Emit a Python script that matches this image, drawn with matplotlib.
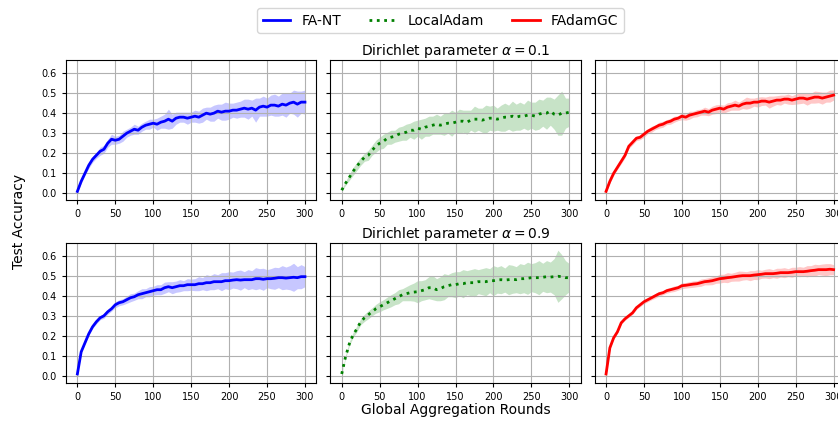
import matplotlib
matplotlib.use("Agg")
import matplotlib.pyplot as plt
import numpy as np

# rounds sampled every 5 rounds
rounds = list(range(0, 301, 5))

# ---- Dirichlet alpha = 0.1 ----
fant_a01 = [0.01, 0.06, 0.10, 0.14, 0.17, 0.19, 0.21, 0.22, 0.25, 0.27, 0.265,
            0.27, 0.285, 0.30, 0.31, 0.32, 0.315, 0.33, 0.34, 0.345, 0.35,
            0.345, 0.355, 0.36, 0.37, 0.36, 0.375, 0.38, 0.38, 0.375, 0.38,
            0.385, 0.38, 0.39, 0.40, 0.395, 0.40, 0.41, 0.405, 0.41, 0.41,
            0.415, 0.415, 0.42, 0.425, 0.42, 0.425, 0.415, 0.43, 0.435, 0.43,
            0.44, 0.44, 0.435, 0.445, 0.44, 0.45, 0.455, 0.445, 0.455, 0.455]
fant_a01_sd = [0.005, 0.01, 0.01, 0.015, 0.015, 0.015, 0.02, 0.02, 0.02, 0.025, 0.02,
               0.02, 0.025, 0.02, 0.02, 0.025, 0.02, 0.02, 0.02, 0.025, 0.02,
               0.03, 0.03, 0.035, 0.05, 0.035, 0.03, 0.025, 0.025, 0.03, 0.025,
               0.03, 0.03, 0.035, 0.03, 0.035, 0.04, 0.035, 0.04, 0.045, 0.04,
               0.035, 0.04, 0.04, 0.045, 0.05, 0.04, 0.06, 0.045, 0.05, 0.045,
               0.05, 0.055, 0.05, 0.055, 0.06, 0.05, 0.06, 0.065, 0.055, 0.06]

ladam_a01 = [0.016, 0.05, 0.08, 0.11, 0.135, 0.16, 0.18, 0.19, 0.215, 0.235, 0.25,
             0.26, 0.275, 0.28, 0.285, 0.295, 0.30, 0.305, 0.315, 0.315, 0.325,
             0.32, 0.33, 0.335, 0.34, 0.345, 0.34, 0.345, 0.35, 0.35, 0.355,
             0.36, 0.36, 0.355, 0.365, 0.37, 0.37, 0.365, 0.37, 0.375, 0.375,
             0.37, 0.375, 0.38, 0.38, 0.385, 0.38, 0.385, 0.385, 0.39, 0.39,
             0.385, 0.395, 0.40, 0.40, 0.41, 0.395, 0.39, 0.40, 0.40, 0.405]
ladam_a01_sd = [0.005, 0.01, 0.015, 0.02, 0.02, 0.02, 0.02, 0.025, 0.025, 0.03, 0.03,
                0.035, 0.03, 0.035, 0.03, 0.035, 0.035, 0.04, 0.035, 0.045, 0.04,
                0.05, 0.045, 0.05, 0.045, 0.05, 0.045, 0.055, 0.05, 0.065, 0.05,
                0.06, 0.055, 0.06, 0.05, 0.065, 0.055, 0.06, 0.07, 0.06, 0.065,
                0.055, 0.065, 0.07, 0.06, 0.075, 0.065, 0.07, 0.06, 0.075, 0.065,
                0.07, 0.075, 0.065, 0.08, 0.07, 0.075, 0.10, 0.11, 0.075, 0.07]

gc_a01 = [0.01, 0.06, 0.10, 0.13, 0.16, 0.19, 0.235, 0.255, 0.275, 0.28, 0.295,
          0.31, 0.32, 0.33, 0.34, 0.345, 0.355, 0.36, 0.37, 0.375, 0.385,
          0.38, 0.39, 0.395, 0.40, 0.405, 0.41, 0.405, 0.415, 0.42, 0.425,
          0.42, 0.43, 0.435, 0.44, 0.435, 0.445, 0.45, 0.45, 0.455, 0.455,
          0.46, 0.46, 0.455, 0.46, 0.465, 0.465, 0.47, 0.47, 0.465, 0.47,
          0.475, 0.475, 0.47, 0.475, 0.48, 0.48, 0.475, 0.48, 0.485, 0.49]
gc_a01_sd = [0.005, 0.008, 0.01, 0.01, 0.012, 0.012, 0.012, 0.012, 0.012, 0.012, 0.015,
             0.012, 0.015, 0.012, 0.015, 0.015, 0.012, 0.015, 0.015, 0.012, 0.018,
             0.015, 0.02, 0.015, 0.018, 0.015, 0.02, 0.018, 0.02, 0.022, 0.018,
             0.02, 0.022, 0.02, 0.025, 0.02, 0.022, 0.03, 0.025, 0.02, 0.025,
             0.022, 0.02, 0.03, 0.025, 0.022, 0.025, 0.02, 0.025, 0.022, 0.025,
             0.028, 0.025, 0.03, 0.025, 0.03, 0.028, 0.03, 0.025, 0.03, 0.025]

# ---- Dirichlet alpha = 0.9 ----
fant_a09 = [0.01, 0.12, 0.165, 0.21, 0.245, 0.27, 0.29, 0.30, 0.32, 0.335, 0.355,
            0.365, 0.37, 0.38, 0.39, 0.395, 0.405, 0.41, 0.415, 0.42, 0.425,
            0.43, 0.43, 0.44, 0.445, 0.44, 0.445, 0.45, 0.45, 0.455, 0.455,
            0.455, 0.46, 0.46, 0.465, 0.465, 0.47, 0.47, 0.47, 0.475, 0.475,
            0.478, 0.48, 0.478, 0.48, 0.48, 0.48, 0.485, 0.485, 0.482, 0.485,
            0.485, 0.487, 0.49, 0.49, 0.488, 0.49, 0.492, 0.49, 0.495, 0.495]
fant_a09_sd = [0.003, 0.005, 0.005, 0.008, 0.008, 0.01, 0.01, 0.012, 0.012, 0.012, 0.015,
               0.015, 0.015, 0.018, 0.02, 0.018, 0.02, 0.025, 0.02, 0.025, 0.022,
               0.025, 0.025, 0.028, 0.025, 0.03, 0.028, 0.03, 0.025, 0.03, 0.028,
               0.03, 0.035, 0.03, 0.04, 0.035, 0.04, 0.035, 0.045, 0.04, 0.045,
               0.04, 0.045, 0.05, 0.04, 0.05, 0.045, 0.055, 0.05, 0.055, 0.045,
               0.05, 0.055, 0.05, 0.06, 0.055, 0.06, 0.07, 0.055, 0.06, 0.05]

ladam_a09 = [0.01, 0.095, 0.16, 0.205, 0.235, 0.27, 0.29, 0.305, 0.32, 0.335, 0.345,
             0.355, 0.365, 0.375, 0.385, 0.395, 0.405, 0.41, 0.415, 0.418, 0.42,
             0.425, 0.43, 0.44, 0.44, 0.43, 0.435, 0.445, 0.45, 0.455, 0.455,
             0.46, 0.46, 0.465, 0.465, 0.465, 0.47, 0.47, 0.47, 0.475, 0.475,
             0.478, 0.48, 0.478, 0.48, 0.482, 0.48, 0.485, 0.485, 0.487, 0.49,
             0.49, 0.49, 0.492, 0.495, 0.493, 0.495, 0.497, 0.495, 0.49, 0.49]
ladam_a09_sd = [0.003, 0.008, 0.01, 0.012, 0.015, 0.015, 0.018, 0.02, 0.02, 0.022, 0.025,
                0.025, 0.028, 0.03, 0.03, 0.035, 0.03, 0.035, 0.04, 0.045, 0.055,
                0.05, 0.05, 0.055, 0.06, 0.055, 0.06, 0.065, 0.055, 0.06, 0.065,
                0.06, 0.07, 0.06, 0.065, 0.07, 0.06, 0.065, 0.07, 0.06, 0.075,
                0.065, 0.07, 0.06, 0.075, 0.07, 0.065, 0.075, 0.07, 0.08, 0.07,
                0.075, 0.085, 0.07, 0.08, 0.075, 0.09, 0.13, 0.11, 0.085, 0.07]

gc_a09 = [0.01, 0.14, 0.19, 0.22, 0.265, 0.285, 0.30, 0.315, 0.34, 0.355, 0.37,
          0.38, 0.39, 0.40, 0.41, 0.415, 0.425, 0.43, 0.435, 0.44, 0.45,
          0.452, 0.455, 0.458, 0.46, 0.465, 0.47, 0.472, 0.475, 0.48, 0.485,
          0.487, 0.49, 0.492, 0.495, 0.498, 0.50, 0.50, 0.50, 0.503, 0.505,
          0.507, 0.51, 0.51, 0.51, 0.512, 0.515, 0.515, 0.515, 0.517, 0.52,
          0.52, 0.52, 0.522, 0.525, 0.527, 0.53, 0.53, 0.53, 0.532, 0.53]
gc_a09_sd = [0.003, 0.005, 0.006, 0.006, 0.007, 0.007, 0.008, 0.008, 0.008, 0.009, 0.01,
             0.01, 0.01, 0.012, 0.012, 0.01, 0.012, 0.012, 0.014, 0.012, 0.015,
             0.014, 0.015, 0.016, 0.015, 0.018, 0.016, 0.018, 0.02, 0.018, 0.022,
             0.02, 0.025, 0.02, 0.022, 0.025, 0.022, 0.02, 0.025, 0.022, 0.025,
             0.02, 0.022, 0.025, 0.02, 0.025, 0.022, 0.025, 0.02, 0.025, 0.022,
             0.025, 0.022, 0.028, 0.025, 0.03, 0.025, 0.028, 0.03, 0.028, 0.025]

methods = ['FA-NT', 'LocalAdam', 'FAdamGC']
colors = ['blue', 'green', 'red']
styles = ['-', ':', '-']
titles = [r'Dirichlet parameter $\alpha = 0.1$', r'Dirichlet parameter $\alpha = 0.9$']

rows = [
    [(fant_a01, fant_a01_sd), (ladam_a01, ladam_a01_sd), (gc_a01, gc_a01_sd)],
    [(fant_a09, fant_a09_sd), (ladam_a09, ladam_a09_sd), (gc_a09, gc_a09_sd)],
]

fig, axes = plt.subplots(2, 3, figsize=(8.38, 4.23), dpi=100, sharex=True, sharey=True)
fig.subplots_adjust(left=66 / 838, right=845 / 838, top=1 - 60 / 423,
                    bottom=1 - 383 / 423, wspace=0.056, hspace=0.30)

x = np.array(rounds)
for r, row in enumerate(rows):
    for c, (mean, sd) in enumerate(row):
        ax = axes[r, c]
        m = np.array(mean)
        s = np.array(sd)
        ax.fill_between(x, m - s, m + s, color=colors[c], alpha=0.22, linewidth=0)
        ax.plot(x, m, color=colors[c], linestyle=styles[c], linewidth=2, label=methods[c])
        ax.grid(True)
        ax.tick_params(labelsize=7, length=3)
        # x tick labels also on top row
        ax.tick_params(labelbottom=True)
    axes[r, 1].set_title(titles[r], fontsize=10, pad=3.5)

axes[0, 0].set_xlim(-15, 315)
axes[0, 0].set_ylim(-0.035, 0.665)
axes[0, 0].set_xticks([0, 50, 100, 150, 200, 250, 300])
axes[0, 0].set_yticks([0.0, 0.1, 0.2, 0.3, 0.4, 0.5, 0.6])

fig.text(19 / 838, 1 - 221 / 423, 'Test Accuracy', rotation=90, ha='center', va='center', fontsize=10)
fig.text(456 / 838, 1 - 410 / 423, 'Global Aggregation Rounds', ha='center', va='center', fontsize=10)

handles = [axes[0, i].get_lines()[0] for i in range(3)]
fig.legend(handles, methods, loc='upper center', bbox_to_anchor=(440.5 / 838, 1 - 1 / 423),
           ncol=3, fontsize=10, columnspacing=2.0)

fig.savefig('out.png', dpi=100)
